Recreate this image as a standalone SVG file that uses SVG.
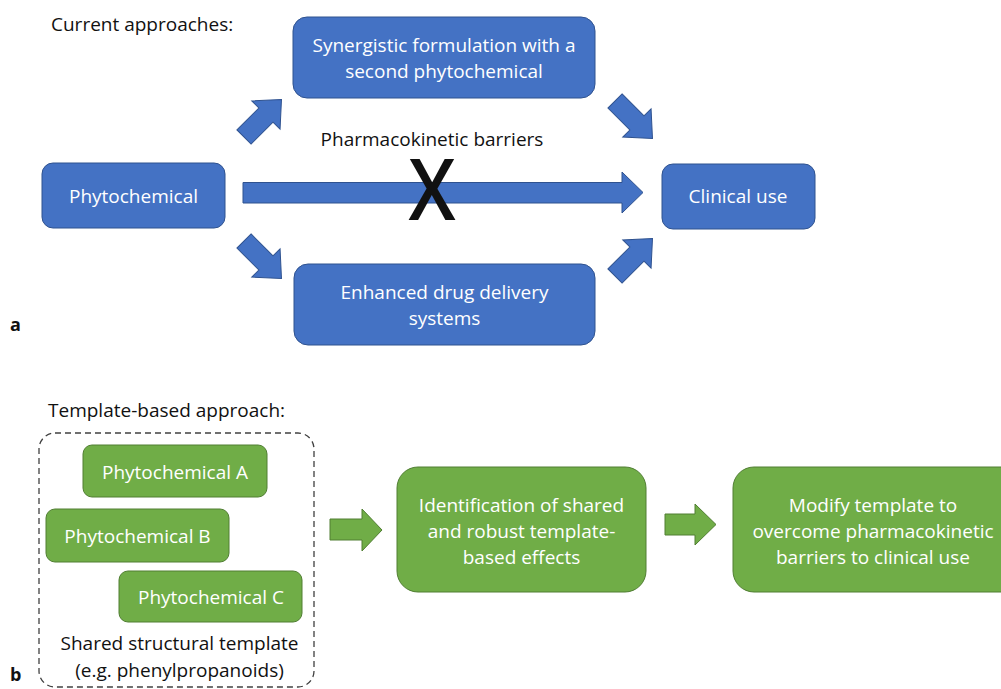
<svg xmlns="http://www.w3.org/2000/svg" width="1001" height="689" viewBox="0 0 1001 689">
<style>
.bg{fill:#ffffff}
.blue{fill:#4472C4;stroke:#2F528F;stroke-width:1}
.green{fill:#70AD47;stroke:#507E32;stroke-width:1}
.dash{fill:none;stroke:#404040;stroke-width:1.3;stroke-dasharray:6,4}
.t{font-family:"Open Sans","Noto Sans","Liberation Sans",sans-serif;font-size:19px}
.w{fill:#ffffff;text-anchor:middle}
.k{fill:#111111}
.c{text-anchor:middle}
.lbl{font-family:"Open Sans","Liberation Sans",sans-serif;font-size:18px;font-weight:bold;fill:#111111}
</style>
<defs>
<path id="diag" d="M0,-10 L31,-10 L31,-20 L53,0 L31,20 L31,10 L0,10 Z"/>
</defs>
<rect class="bg" x="0" y="0" width="1001" height="689"/>

<g id="title-a"><text class="t k" x="51" y="31">Current approaches:</text></g>
<g id="label-a"><text class="lbl" x="10" y="331">a</text></g>

<g id="node-synergistic">
<rect class="blue" x="293" y="17" width="302" height="81" rx="14"/>
<text class="t w" x="444" y="52">Synergistic formulation with a</text>
<text class="t w" x="444" y="78">second phytochemical</text>
</g>
<g id="node-phytochemical">
<rect class="blue" x="42" y="163" width="183" height="65" rx="11"/>
<text class="t w" x="133.5" y="203">Phytochemical</text>
</g>
<g id="node-clinical">
<rect class="blue" x="662" y="164" width="153" height="65" rx="11"/>
<text class="t w" x="738" y="203">Clinical use</text>
</g>
<g id="node-enhanced">
<rect class="blue" x="294" y="264" width="301" height="81" rx="14"/>
<text class="t w" x="444.5" y="299">Enhanced drug delivery</text>
<text class="t w" x="444.5" y="325">systems</text>
</g>

<g id="connectors">
<use href="#diag" class="blue" transform="translate(244,137) rotate(-45)"/>
<use href="#diag" class="blue" transform="translate(244,241) rotate(45)"/>
<use href="#diag" class="blue" transform="translate(615,101) rotate(45)"/>
<use href="#diag" class="blue" transform="translate(615,276) rotate(-45)"/>
<polygon class="blue" points="243,182.5 622,182.5 622,172 643,192.5 622,213 622,203 243,203"/>
<polygon class="green" points="330,519 362,519 362,509 382,530 362,551 362,540 330,540"/>
<polygon class="green" points="665,514 695,514 695,504 716,524.5 695,545 695,535 665,535"/>
</g>

<g id="barrier">
<text class="t k c" x="432" y="146">Pharmacokinetic barriers</text>
<text class="k" x="0" y="0" text-anchor="middle" font-family="Open Sans, Liberation Sans, sans-serif" font-weight="600" font-size="86" transform="translate(432,220) scale(0.88,1)">X</text>
</g>

<g id="title-b"><text class="t k" x="48" y="417">Template-based approach:</text></g>
<g id="label-b"><text class="lbl" x="10" y="681">b</text></g>

<g id="template-group">
<rect class="dash" x="39" y="433" width="275" height="254" rx="16"/>
<text class="t k c" x="179.5" y="650">Shared structural template</text>
<text class="t k c" x="179.5" y="677">(e.g. phenylpropanoids)</text>
</g>
<g id="node-phyto-a">
<rect class="green" x="83" y="445" width="184" height="52" rx="9"/>
<text class="t w" x="175" y="479">Phytochemical A</text>
</g>
<g id="node-phyto-b">
<rect class="green" x="46" y="509" width="183" height="53" rx="9"/>
<text class="t w" x="137.5" y="543">Phytochemical B</text>
</g>
<g id="node-phyto-c">
<rect class="green" x="119" y="571" width="183" height="51" rx="9"/>
<text class="t w" x="211" y="604">Phytochemical C</text>
</g>
<g id="node-identification">
<rect class="green" x="397" y="467" width="249" height="125" rx="21"/>
<text class="t w" x="521.5" y="512">Identification of shared</text>
<text class="t w" x="521.5" y="538">and robust template-</text>
<text class="t w" x="521.5" y="564">based effects</text>
</g>
<g id="node-modify">
<rect class="green" x="733" y="467" width="300" height="125" rx="21"/>
<text class="t w" x="873" y="512">Modify template to</text>
<text class="t w" x="873" y="538">overcome pharmacokinetic</text>
<text class="t w" x="873" y="564">barriers to clinical use</text>
</g>
</svg>
